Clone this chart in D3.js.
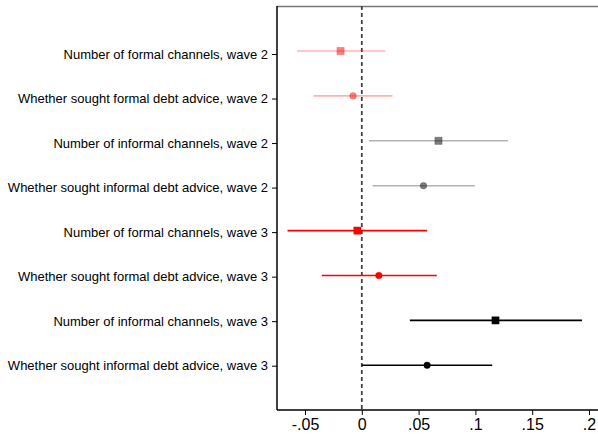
<!DOCTYPE html>
<html><head><meta charset="utf-8">
<script src="https://cdn.jsdelivr.net/npm/d3@7"></script>
<style>html,body{margin:0;padding:0;background:#fff;}svg{display:block;font-family:Arial,"Liberation Sans",sans-serif;}</style>
</head><body>
<svg id="c" width="598" height="434"></svg>
<script>
const labels = [
  "Number of formal channels, wave 2",
  "Whether sought formal debt advice, wave 2",
  "Number of informal channels, wave 2",
  "Whether sought informal debt advice, wave 2",
  "Number of formal channels, wave 3",
  "Whether sought formal debt advice, wave 3",
  "Number of informal channels, wave 3",
  "Whether sought informal debt advice, wave 3"
];
const estimates = [-0.0187, -0.0077, 0.0675, 0.0543, -0.0039, 0.0150, 0.1177, 0.0575];
const ciLow    = [-0.0570, -0.0426, 0.0064, 0.0094, -0.0654, -0.0352, 0.0423, 0.0000];
const ciHigh   = [ 0.0206, 0.0270, 0.1286, 0.0995, 0.0575, 0.0660, 0.1938, 0.1148];
const shapes   = ["square","circle","square","circle","square","circle","square","circle"];
const colors   = ["#ff0000","#ff0000","#000000","#000000","#ff0000","#ff0000","#000000","#000000"];
const lineOpacity   = [0.3,0.3,0.3,0.3,1,1,1,1];
const markerOpacity = [0.5,0.5,0.5,0.5,1,1,1,1];
const xTicks = [-0.05, 0, 0.05, 0.1, 0.15, 0.2];
const xTickLabels = ["-.05","0",".05",".1",".15",".2"];

(function () {
const svg = d3.select("#c");
const pLeft = 277, pTop = 6, pBottom = 410, pRight = 598;
const x = d3.scaleLinear().domain([-0.05, 0.2]).range([305, 589]);
const yTick = d3.scalePoint().domain(labels).range([54, 365.7]);
const yMark = d3.scalePoint().domain(labels).range([51, 365.3]);

// frame top
svg.append("line").attr("x1", pLeft).attr("x2", pRight).attr("y1", pTop + 0.5).attr("y2", pTop + 0.5)
  .attr("stroke", "#777").attr("stroke-width", 1.5);

// y axis
const yAxis = d3.axisLeft(yTick).tickSize(5).tickPadding(4);
const gy = svg.append("g").attr("transform", `translate(${pLeft},0)`).call(yAxis);
gy.select(".domain").remove();
gy.selectAll(".tick line").attr("stroke", "#000").attr("stroke-width", 1);
gy.selectAll(".tick text").attr("font-size", "13px").attr("fill", "#000")
  .attr("font-family", "Arial, 'Liberation Sans', sans-serif");
svg.append("line").attr("x1", pLeft).attr("x2", pLeft).attr("y1", pTop).attr("y2", pBottom)
  .attr("stroke", "#000").attr("stroke-width", 1.5);

// x axis
const xAxis = d3.axisBottom(x).tickValues(xTicks).tickFormat((d, i) => xTickLabels[i]).tickSize(5).tickPadding(4);
const gx = svg.append("g").attr("transform", `translate(0,${pBottom})`).call(xAxis);
gx.select(".domain").remove();
gx.selectAll(".tick line").attr("stroke", "#000");
gx.selectAll(".tick text").attr("font-size", "16px").attr("fill", "#000")
  .attr("font-family", "Arial, 'Liberation Sans', sans-serif");
svg.append("line").attr("x1", pLeft).attr("x2", pRight).attr("y1", pBottom).attr("y2", pBottom)
  .attr("stroke", "#000").attr("stroke-width", 1.5);

// zero reference
svg.append("line").attr("x1", x(0)).attr("x2", x(0)).attr("y1", pTop).attr("y2", pBottom)
  .attr("stroke", "#444").attr("stroke-width", 1.8).attr("stroke-dasharray", "4,3");

const rows = labels.map((l, i) => ({l, e: estimates[i], lo: ciLow[i], hi: ciHigh[i], s: shapes[i], c: colors[i], lop: lineOpacity[i], mo: markerOpacity[i]}));

svg.append("g").selectAll("line").data(rows).join("line")
  .attr("x1", d => x(d.lo)).attr("x2", d => x(d.hi))
  .attr("y1", d => yMark(d.l)).attr("y2", d => yMark(d.l))
  .attr("stroke", d => d.c).attr("stroke-opacity", d => d.lop).attr("stroke-width", 1.6);

const sym = {square: d3.symbolSquare, circle: d3.symbolCircle};
svg.append("g").selectAll("path").data(rows).join("path")
  .attr("transform", d => `translate(${x(d.e)},${yMark(d.l)})`)
  .attr("d", d => d3.symbol().type(sym[d.s]).size(d.s === "square" ? 52 : 34)())
  .attr("fill", d => d.c).attr("fill-opacity", d => d.mo)
  .attr("stroke", d => d.c).attr("stroke-opacity", d => d.mo * 0.6).attr("stroke-width", 0.8);
})();
</script>
</body></html>
